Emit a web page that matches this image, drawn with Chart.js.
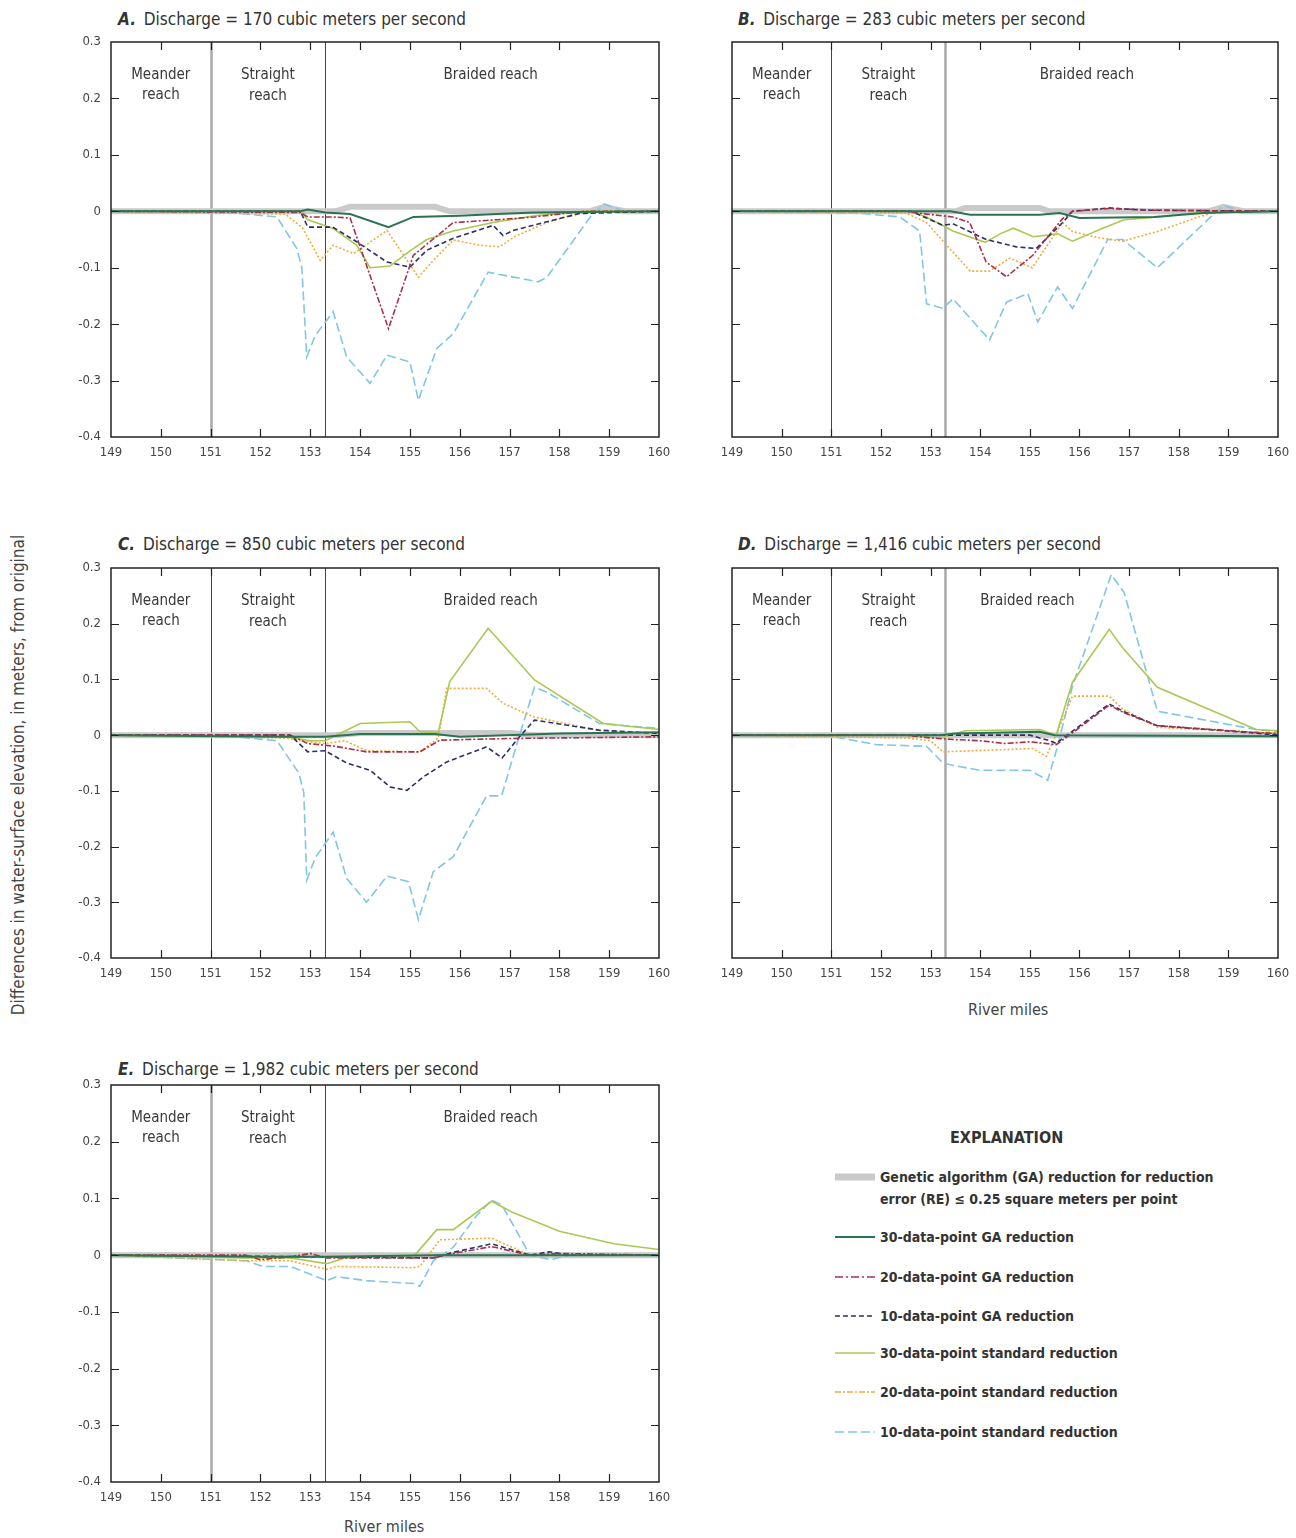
<!DOCTYPE html>
<html>
<head>
<meta charset="utf-8">
<script src="https://cdn.jsdelivr.net/npm/chart.js@4.4.1/dist/chart.umd.min.js"></script>
<style>
  body { margin: 0; background: #fff; }
  #page { position: relative; width: 1296px; height: 1538px; overflow: hidden;
    font-family: 'Liberation Sans Narrow', 'DejaVu Sans Condensed', 'Liberation Sans', sans-serif; color: #333; }
  canvas { position: absolute; }
  .ttl { position: absolute; font-size: 17px; white-space: nowrap; color: #333; }
  .ttl b { font-style: italic; margin-right: 3px; }
  .axt { position: absolute; font-size: 16px; white-space: nowrap; color: #444; }
  #ytitle { position: absolute; left: 18px; top: 775px; transform: translate(-50%, -50%) rotate(-90deg);
    font-size: 17px; white-space: nowrap; color: #444; }
  #legend { position: absolute; left: 830px; top: 1128px; width: 420px; }
  #legend .hd { position: absolute; left: 120px; top: 0; width: 110px; text-align: center; font-weight: bold; font-size: 16px; color: #333; }
  #legend .it { position: absolute; left: 50px; font-weight: bold; font-size: 14px; color: #333; white-space: nowrap; line-height: 22px; }
  #legend svg { position: absolute; left: 0; top: 0; }
</style>
</head>
<body>
<div id="page">
  <div class="ttl" style="left:118px;top:9px"><b>A.</b> Discharge = 170 cubic meters per second</div>
  <div class="ttl" style="left:738px;top:9px"><b>B.</b> Discharge = 283 cubic meters per second</div>
  <div class="ttl" style="left:118px;top:534px"><b>C.</b> Discharge = 850 cubic meters per second</div>
  <div class="ttl" style="left:738px;top:534px"><b>D.</b> Discharge = 1,416 cubic meters per second</div>
  <div class="ttl" style="left:118px;top:1059px"><b>E.</b> Discharge = 1,982 cubic meters per second</div>
  <div id="ytitle">Differences in water-surface elevation, in meters, from original</div>
  <div class="axt" style="left:968px;top:1000px">River miles</div>
  <div class="axt" style="left:344px;top:1517px">River miles</div>

  <canvas id="cA" width="612" height="437" style="left:61px;top:30px"></canvas>
  <canvas id="cB" width="610" height="437" style="left:682px;top:30px"></canvas>
  <canvas id="cC" width="612" height="432" style="left:61px;top:556px"></canvas>
  <canvas id="cD" width="610" height="432" style="left:682px;top:556px"></canvas>
  <canvas id="cE" width="612" height="439" style="left:61px;top:1073px"></canvas>

  <div id="legend">
    <div class="hd">EXPLANATION</div>
    <svg width="50" height="320">
      <line x1="5" x2="45" y1="49" y2="49" stroke="#cacaca" stroke-width="7"/>
      <line x1="5" x2="45" y1="109" y2="109" stroke="#2a7452" stroke-width="2"/>
      <line x1="5" x2="45" y1="149" y2="149" stroke="#a8304c" stroke-width="1.6" stroke-dasharray="8,3,2,3"/>
      <line x1="5" x2="45" y1="188" y2="188" stroke="#2d2f6a" stroke-width="1.6" stroke-dasharray="5,3"/>
      <line x1="5" x2="45" y1="225" y2="225" stroke="#a9c954" stroke-width="1.6"/>
      <line x1="5" x2="45" y1="264" y2="264" stroke="#f2ab3c" stroke-width="1.6" stroke-dasharray="6,2,2,2"/>
      <line x1="5" x2="45" y1="304" y2="304" stroke="#82c6e6" stroke-width="1.6" stroke-dasharray="9,4"/>
    </svg>
    <div class="it" style="top:38px">Genetic algorithm (GA) reduction for reduction<br>error (RE) ≤ 0.25 square meters per point</div>
    <div class="it" style="top:98px">30-data-point GA reduction</div>
    <div class="it" style="top:138px">20-data-point GA reduction</div>
    <div class="it" style="top:177px">10-data-point GA reduction</div>
    <div class="it" style="top:214px">30-data-point standard reduction</div>
    <div class="it" style="top:253px">20-data-point standard reduction</div>
    <div class="it" style="top:293px">10-data-point standard reduction</div>
  </div>
</div>

<script>
'use strict';

const FONT = "'Liberation Sans Narrow', 'DejaVu Sans Condensed', 'Liberation Sans', sans-serif";

// river miles axis and difference axis
const mileTicks = [149, 150, 151, 152, 153, 154, 155, 156, 157, 158, 159, 160];
const diffTicks = [-0.4, -0.3, -0.2, -0.1, 0, 0.1, 0.2, 0.3];
const reachBounds = [151, 153.3];

// ---- A. 170 m3/s  ([river mile, difference in m])
const aGA    = [[149,0],[153.5,0],[153.8,0.008],[155.5,0.008],[155.8,0],[158.6,0],[158.9,0.008],[159.3,0],[160,0]];
const aGA30  = [[149,0],[152.8,0],[152.95,0.003],[153.3,-0.002],[153.8,-0.005],[154.57,-0.028],[155.07,-0.01],[156.0,-0.008],[156.75,-0.005],[157.5,-0.002],[160,0]];
const aGA20  = [[149,0],[152.8,-0.002],[152.95,-0.01],[153.45,-0.01],[153.8,-0.012],[154.57,-0.208],[155.07,-0.078],[155.87,-0.02],[156.75,-0.015],[157.5,-0.01],[158.5,0],[160,0]];
const aGA10  = [[149,0],[152.8,0],[152.95,-0.028],[153.45,-0.028],[153.93,-0.054],[154.54,-0.09],[155.0,-0.099],[155.34,-0.069],[155.87,-0.048],[156.67,-0.025],[156.87,-0.043],[157.07,-0.034],[158.4,-0.004],[160,0]];
const aStd30 = [[149,0],[152.8,0],[152.95,-0.015],[153.45,-0.03],[153.93,-0.06],[154.2,-0.1],[154.6,-0.097],[155.0,-0.07],[155.34,-0.05],[155.87,-0.035],[156.67,-0.02],[157.5,-0.008],[158.5,0],[160,0]];
const aStd20 = [[149,0],[152.5,-0.005],[152.85,-0.03],[153.2,-0.087],[153.46,-0.06],[153.87,-0.075],[154.54,-0.034],[155.17,-0.117],[155.47,-0.087],[155.87,-0.051],[156.4,-0.06],[156.8,-0.063],[157.1,-0.045],[157.75,-0.02],[158.4,-0.003],[160,0]];
const aStd10 = [[149,0],[151.5,-0.003],[152.33,-0.01],[152.73,-0.066],[152.83,-0.099],[152.93,-0.258],[153.1,-0.22],[153.46,-0.178],[153.73,-0.258],[154.2,-0.305],[154.54,-0.255],[155.0,-0.267],[155.17,-0.335],[155.54,-0.243],[155.87,-0.217],[156.57,-0.108],[157.57,-0.125],[157.75,-0.117],[158.62,-0.01],[158.9,0.013],[159.3,0],[160,0]];

// ---- B. 283 m3/s
const bGA    = [[149,0],[153.5,0],[153.7,0.006],[155.2,0.006],[155.4,0],[158.6,0],[158.9,0.008],[159.3,0],[160,0]];
const bGA30  = [[149,0],[153.4,0],[153.8,-0.006],[155.2,-0.006],[155.6,-0.003],[156.0,-0.012],[157.5,-0.01],[158.5,-0.003],[160,0]];
const bGA20  = [[149,0],[152.5,0],[152.92,-0.005],[153.45,-0.01],[153.79,-0.02],[154.12,-0.09],[154.53,-0.116],[155.06,-0.078],[155.66,-0.013],[155.86,0],[156.6,0.005],[157.5,0.002],[160,0]];
const bGA10  = [[149,0],[152.6,0],[152.92,-0.012],[153.25,-0.025],[153.45,-0.022],[154.12,-0.05],[154.73,-0.063],[155.13,-0.066],[155.66,-0.02],[155.86,0],[156.6,0.006],[157.3,0.002],[160,0]];
const bStd30 = [[149,0],[152.6,0],[152.92,-0.01],[153.45,-0.035],[154.1,-0.055],[154.4,-0.04],[154.67,-0.03],[155.07,-0.045],[155.56,-0.04],[155.86,-0.053],[156.47,-0.03],[156.9,-0.015],[157.6,-0.01],[158.6,0],[160,0]];
const bStd20 = [[149,0],[152.5,-0.003],[152.92,-0.02],[153.25,-0.053],[153.8,-0.106],[154.19,-0.106],[154.6,-0.083],[155.05,-0.1],[155.66,-0.02],[155.86,-0.036],[156.4,-0.047],[156.87,-0.053],[157.6,-0.035],[158.4,-0.01],[158.8,0],[160,0]];
const bStd10 = [[149,0],[151.5,-0.003],[152.38,-0.01],[152.78,-0.035],[152.92,-0.164],[153.25,-0.172],[153.45,-0.155],[154.19,-0.228],[154.53,-0.161],[154.96,-0.146],[155.16,-0.196],[155.56,-0.134],[155.86,-0.172],[156.57,-0.05],[156.87,-0.05],[157.57,-0.1],[158.62,-0.012],[158.9,0.01],[159.3,0],[160,0]];

// ---- C. 850 m3/s
const cGA    = [[149,0],[153.5,0],[154,0.004],[157,0.004],[157.5,0],[160,0]];
const cGA30  = [[149,0],[152.5,-0.003],[153.3,-0.003],[154,0.002],[155.5,0.002],[156,-0.003],[158,0.003],[160,0.005]];
const cGA20  = [[149,0],[152.6,0],[152.95,-0.015],[153.5,-0.02],[154.13,-0.03],[155.2,-0.03],[155.6,-0.009],[157,-0.006],[160,-0.003]];
const cGA10  = [[149,0],[152.6,0],[152.95,-0.03],[153.3,-0.028],[153.73,-0.05],[154.2,-0.063],[154.6,-0.093],[154.94,-0.099],[155.27,-0.075],[155.74,-0.048],[156.54,-0.021],[156.85,-0.041],[157.2,-0.003],[157.5,0.027],[158.8,0.009],[160,0.003]];
const cStd30 = [[149,0],[152.5,-0.003],[153.0,-0.01],[153.3,-0.01],[153.6,0.003],[154.0,0.021],[155.0,0.024],[155.2,0.006],[155.57,0.005],[155.8,0.096],[156.57,0.192],[157.5,0.099],[158.88,0.021],[160,0.01]];
const cStd20 = [[149,0],[152.5,-0.005],[153.0,-0.012],[153.3,-0.015],[153.7,-0.01],[154.13,-0.028],[155.2,-0.03],[155.57,-0.005],[155.74,0.084],[156.54,0.084],[156.87,0.057],[157.48,0.033],[158.8,0.008],[160,0.003]];
const cStd10 = [[149,0],[151.5,-0.003],[152.33,-0.01],[152.77,-0.068],[152.87,-0.103],[152.93,-0.26],[153.1,-0.22],[153.46,-0.174],[153.73,-0.257],[154.13,-0.3],[154.54,-0.253],[154.97,-0.263],[155.17,-0.331],[155.47,-0.245],[155.87,-0.218],[156.54,-0.109],[156.84,-0.109],[157.2,0],[157.5,0.086],[157.75,0.077],[158.8,0.021],[160,0.012]];

// ---- D. 1,416 m3/s
const dGA    = [[149,0],[160,0]];
const dGA30  = [[149,0],[153.2,0],[153.5,0.003],[155.2,0.006],[155.5,0],[160,-0.002]];
const dGA20  = [[149,0],[152.5,0],[153.0,-0.005],[153.5,-0.008],[154.0,-0.01],[154.5,-0.015],[155.0,-0.012],[155.53,-0.017],[155.8,0],[156.6,0.054],[156.9,0.04],[157.57,0.017],[159.5,0.005],[160,0.003]];
const dGA10  = [[149,0],[155.0,0],[155.4,-0.01],[155.53,-0.015],[155.75,0],[156.6,0.056],[156.9,0.042],[157.57,0.017],[159.5,0.004],[160,0]];
const dStd30 = [[149,0],[152.5,0],[153.2,-0.005],[153.7,0.008],[155.2,0.01],[155.53,0],[155.86,0.095],[156.6,0.19],[156.87,0.157],[157.57,0.086],[159.56,0.01],[160,0.008]];
const dStd20 = [[149,0],[152.5,-0.005],[153.0,-0.01],[153.25,-0.03],[155.06,-0.024],[155.33,-0.038],[155.53,0],[155.86,0.07],[156.6,0.07],[156.87,0.047],[157.57,0.014],[159.56,0.005],[160,0.003]];
const dStd10 = [[149,0],[151.0,-0.002],[151.9,-0.017],[152.92,-0.02],[153.25,-0.05],[153.5,-0.055],[153.99,-0.063],[155.0,-0.063],[155.36,-0.081],[155.56,-0.02],[155.86,0.088],[156.64,0.288],[156.9,0.256],[157.57,0.043],[159.56,0.01],[160,0.006]];

// ---- E. 1,982 m3/s
const eGA    = [[149,0],[160,0]];
const eGA30  = [[149,0],[152,-0.003],[153.3,-0.003],[155.5,0],[160,0]];
const eGA20  = [[149,0],[151.7,0],[152.0,-0.008],[152.6,-0.003],[153.0,0.003],[153.33,-0.005],[155.47,-0.005],[155.87,0.003],[156.64,0.015],[157.41,0],[158.0,0.003],[160,0]];
const eGA10  = [[149,0],[153.33,-0.003],[155.47,-0.005],[155.87,0.005],[156.64,0.02],[157.41,0],[157.8,0.006],[158.2,0],[160,0]];
const eStd30 = [[149,0],[151.7,-0.005],[152.6,-0.005],[153.33,-0.015],[153.7,-0.005],[155.1,0],[155.54,0.045],[155.87,0.045],[156.64,0.095],[157.07,0.075],[158.0,0.042],[159.1,0.02],[160,0.01]];
const eStd20 = [[149,0],[151.7,-0.01],[152.6,-0.01],[153.33,-0.025],[153.53,-0.02],[155.07,-0.022],[155.2,-0.02],[155.6,0.027],[156.64,0.03],[157.41,0],[160,0]];
const eStd10 = [[149,0],[151.72,-0.01],[152.05,-0.02],[152.6,-0.02],[153.33,-0.045],[153.53,-0.038],[154.13,-0.045],[155.07,-0.05],[155.2,-0.055],[155.47,-0.01],[155.87,0.014],[156.34,0.07],[156.64,0.097],[156.85,0.088],[157.41,0],[157.82,-0.008],[158.2,0],[160,0]];

// line styles, in the same order as each panel's series list
const seriesStyle = [
  { color: '#cacaca', width: 6,   dash: [],           order: 7 },  // GA RE <= 0.25
  { color: '#2a7452', width: 2,   dash: [],           order: 1 },  // 30 GA
  { color: '#a8304c', width: 1.6, dash: [6, 2, 2, 2], order: 2 },  // 20 GA
  { color: '#2d2f6a', width: 1.6, dash: [5, 3],       order: 3 },  // 10 GA
  { color: '#a9c954', width: 1.6, dash: [],           order: 4 },  // 30 standard
  { color: '#f2ab3c', width: 1.6, dash: [2, 2],       order: 5 },  // 20 standard
  { color: '#82c6e6', width: 1.6, dash: [9, 4],       order: 6 },  // 10 standard
];

const GRAY_LINE = { color: '#a8a8a8', width: 2.5 };
const DARK_LINE = { color: '#444', width: 1 };

const panels = [
  { id: 'cA', series: [aGA, aGA30, aGA20, aGA10, aStd30, aStd20, aStd10], yLabels: true,  lines: [GRAY_LINE, DARK_LINE], braided: 156.62 },
  { id: 'cB', series: [bGA, bGA30, bGA20, bGA10, bStd30, bStd20, bStd10], yLabels: false, lines: [DARK_LINE, GRAY_LINE], braided: 156.15 },
  { id: 'cC', series: [cGA, cGA30, cGA20, cGA10, cStd30, cStd20, cStd10], yLabels: true,  lines: [DARK_LINE, DARK_LINE], braided: 156.62 },
  { id: 'cD', series: [dGA, dGA30, dGA20, dGA10, dStd30, dStd20, dStd10], yLabels: false, lines: [DARK_LINE, GRAY_LINE], braided: 154.95 },
  { id: 'cE', series: [eGA, eGA30, eGA20, eGA10, eStd30, eStd20, eStd10], yLabels: true,  lines: [GRAY_LINE, DARK_LINE], braided: 156.62 },
];

// reach boundaries + reach names behind the lines, box and inward ticks on top
const reachPlugin = {
  id: 'reach',
  beforeDatasetsDraw(chart, args, opts) {
    const { ctx, chartArea: a, scales: { x } } = chart;
    ctx.save();
    reachBounds.forEach((b, i) => {
      const px = Math.round(x.getPixelForValue(b)) + 0.5;
      ctx.strokeStyle = opts.lines[i].color;
      ctx.lineWidth = opts.lines[i].width;
      ctx.beginPath(); ctx.moveTo(px, a.top); ctx.lineTo(px, a.bottom); ctx.stroke();
    });
    ctx.fillStyle = '#3a3a3a';
    ctx.font = '15px ' + FONT;
    ctx.textAlign = 'center';
    ctx.textBaseline = 'middle';
    const m = x.getPixelForValue(150), s = x.getPixelForValue(152.15), br = x.getPixelForValue(opts.braided);
    ctx.fillText('Meander', m, a.top + 33);
    ctx.fillText('reach', m, a.top + 53);
    ctx.fillText('Straight', s, a.top + 33);
    ctx.fillText('reach', s, a.top + 54);
    ctx.fillText('Braided reach', br, a.top + 33);
    ctx.restore();
  },
  afterDatasetsDraw(chart) {
    const { ctx, chartArea: a, scales: { x, y } } = chart;
    ctx.save();
    ctx.strokeStyle = '#222';
    ctx.lineWidth = 1.5;
    ctx.strokeRect(a.left, a.top, a.right - a.left, a.bottom - a.top);
    ctx.lineWidth = 1.2;
    ctx.beginPath();
    mileTicks.slice(1, -1).forEach(v => {
      const px = Math.round(x.getPixelForValue(v)) + 0.5;
      ctx.moveTo(px, a.bottom); ctx.lineTo(px, a.bottom - 8);
      ctx.moveTo(px, a.top); ctx.lineTo(px, a.top + 8);
    });
    diffTicks.slice(1, -1).forEach(v => {
      const py = Math.round(y.getPixelForValue(v)) + 0.5;
      ctx.moveTo(a.left, py); ctx.lineTo(a.left + 8, py);
      ctx.moveTo(a.right, py); ctx.lineTo(a.right - 8, py);
    });
    ctx.stroke();
    ctx.restore();
  }
};

function draw_panel(p) {
  const ctx = document.getElementById(p.id).getContext('2d');
  const datasets = p.series.map((pts, i) => ({
    data: pts.map(([mi, d]) => ({ x: mi, y: d })),
    borderColor: seriesStyle[i].color,
    borderWidth: seriesStyle[i].width,
    borderDash: seriesStyle[i].dash,
    order: seriesStyle[i].order,
    pointRadius: 0,
    tension: 0,
    fill: false,
  }));
  new Chart(ctx, {
    type: 'line',
    data: { datasets },
    plugins: [reachPlugin],
    options: {
      responsive: false,
      animation: false,
      layout: { padding: { left: 0, top: 12, right: 14, bottom: 0 } },
      plugins: {
        legend: { display: false },
        tooltip: { enabled: false },
        reach: { lines: p.lines, braided: p.braided },
      },
      scales: {
        x: {
          type: 'linear', min: 149, max: 160,
          afterBuildTicks: s => { s.ticks = mileTicks.map(v => ({ value: v })); },
          // fixed size, no extra room for the end labels
          afterFit: s => { s.height = 30; s.paddingLeft = 0; s.paddingRight = 0; },
          grid: { display: false, drawTicks: false },
          border: { display: false },
          ticks: { padding: 8, color: '#444', font: { family: FONT, size: 13 }, maxRotation: 0, autoSkip: false,
                   callback: v => String(v) },
        },
        y: {
          type: 'linear', min: -0.4, max: 0.3,
          afterBuildTicks: s => { s.ticks = diffTicks.map(v => ({ value: v })); },
          afterFit: s => { s.width = 50; s.paddingTop = 0; s.paddingBottom = 0; },
          grid: { display: false, drawTicks: false },
          border: { display: false },
          ticks: { display: p.yLabels, padding: 10, color: '#444', font: { family: FONT, size: 13 },
                   callback: v => (Math.abs(v) < 1e-9 ? '0' : v.toFixed(1)) },
        },
      },
    },
  });
}

panels.forEach(draw_panel);
</script>
</body>
</html>
